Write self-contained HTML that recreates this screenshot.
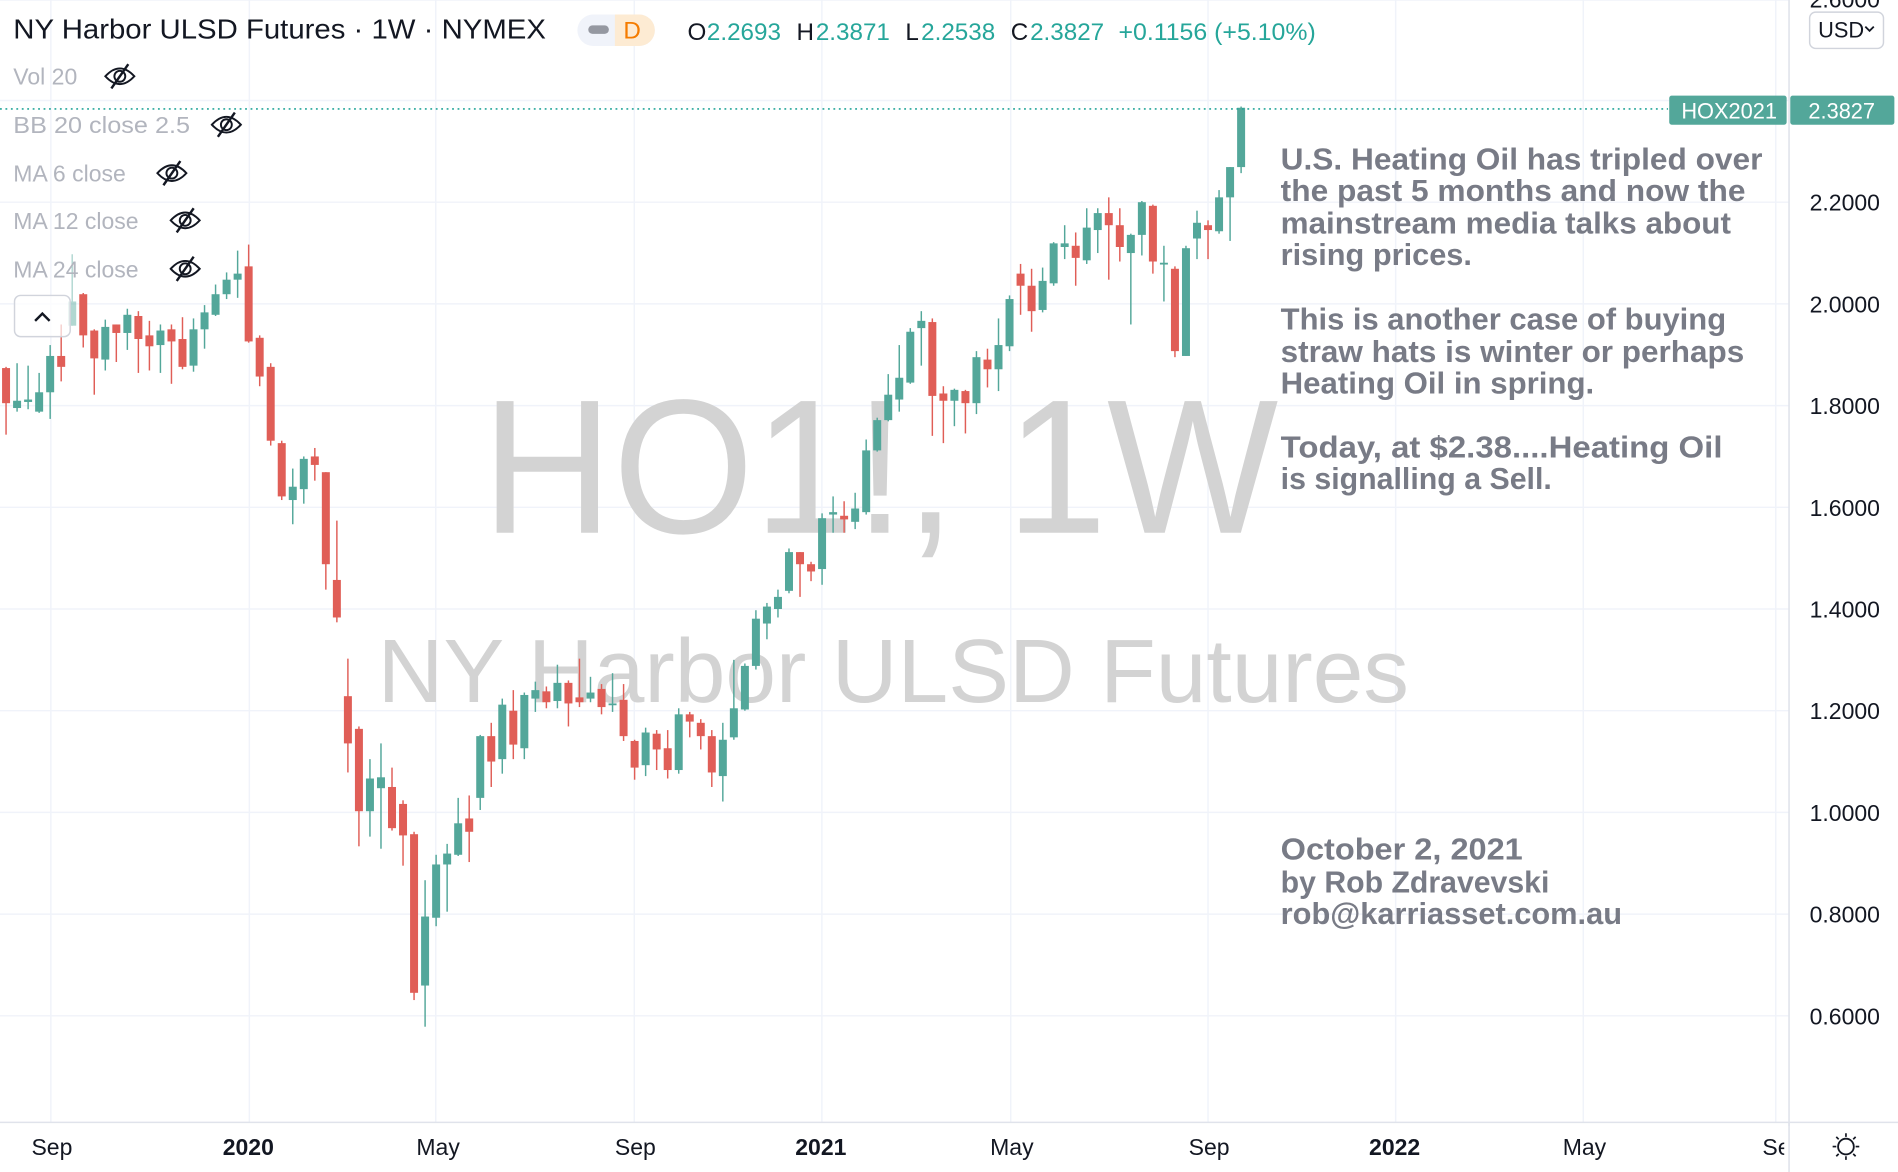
<!DOCTYPE html>
<html><head><meta charset="utf-8"><style>
html,body{margin:0;padding:0;background:#fff;overflow:hidden}
svg{display:block}
text{font-family:"Liberation Sans",sans-serif}
</style></head><body>
<svg id="s" width="1898" height="1172" viewBox="0 0 1568 968" preserveAspectRatio="none" xmlns="http://www.w3.org/2000/svg">
<rect width="1568" height="968" fill="#fff"/>
<g stroke="#f0f3fa" stroke-width="1.2">
<line x1="42" y1="0" x2="42" y2="927"/><line x1="206" y1="0" x2="206" y2="927"/><line x1="360" y1="0" x2="360" y2="927"/><line x1="524" y1="0" x2="524" y2="927"/><line x1="679" y1="0" x2="679" y2="927"/><line x1="835" y1="0" x2="835" y2="927"/><line x1="998" y1="0" x2="998" y2="927"/><line x1="1153" y1="0" x2="1153" y2="927"/><line x1="1308" y1="0" x2="1308" y2="927"/><line x1="1467" y1="0" x2="1467" y2="927"/>
<line x1="0" y1="0" x2="1478" y2="0"/><line x1="0" y1="83" x2="1478" y2="83"/><line x1="0" y1="167" x2="1478" y2="167"/><line x1="0" y1="251" x2="1478" y2="251"/><line x1="0" y1="335" x2="1478" y2="335"/><line x1="0" y1="419" x2="1478" y2="419"/><line x1="0" y1="503" x2="1478" y2="503"/><line x1="0" y1="587" x2="1478" y2="587"/><line x1="0" y1="671" x2="1478" y2="671"/><line x1="0" y1="755" x2="1478" y2="755"/><line x1="0" y1="839" x2="1478" y2="839"/>
</g>
<!-- watermarks -->
<text x="398" y="440" font-size="158" fill="#d3d3d3" textLength="658" lengthAdjust="spacingAndGlyphs">HO1!, 1W</text>
<text x="312" y="580" font-size="74" fill="#d3d3d3" textLength="852" lengthAdjust="spacingAndGlyphs">NY Harbor ULSD Futures</text>
<g id="candles"></g>
<line x1="0" y1="90" x2="1378" y2="90" stroke="#26a69a" stroke-width="1.3" stroke-dasharray="1.5 3"/>
<!-- axes -->
<line x1="1478" y1="0" x2="1478" y2="968" stroke="#e0e3eb" stroke-width="1.3"/>
<line x1="0" y1="927" x2="1568" y2="927" stroke="#e0e3eb" stroke-width="1.3"/>
<g font-size="19" fill="#131722">
<text x="1495" y="6">2.6000</text>
<text x="1495" y="174">2.2000</text><text x="1495" y="258">2.0000</text><text x="1495" y="342">1.8000</text><text x="1495" y="426">1.6000</text><text x="1495" y="510">1.4000</text><text x="1495" y="594">1.2000</text><text x="1495" y="678">1.0000</text><text x="1495" y="762">0.8000</text><text x="1495" y="846">0.6000</text>
</g>
<rect x="1495" y="10" width="61" height="30" rx="5" fill="#fff" stroke="#d1d4dc" stroke-width="1.2"/>
<text x="1502" y="31" font-size="18" fill="#131722">USD</text>
<path d="M1541 22 l3.5 3.5 l3.5 -3.5" fill="none" stroke="#131722" stroke-width="1.5"/>
<rect x="1379" y="79" width="97" height="24" rx="2" fill="#53a79a"/>
<text x="1389" y="98" font-size="18" fill="#fff">HOX2021</text>
<rect x="1479" y="79" width="86" height="24" rx="2" fill="#53a79a"/>
<text x="1494" y="98" font-size="18" fill="#fff">2.3827</text>
<g font-size="19" fill="#131722">
<text x="26" y="954">Sep</text><text x="184" y="954" font-weight="bold">2020</text><text x="344" y="954">May</text><text x="508" y="954">Sep</text><text x="657" y="954" font-weight="bold">2021</text><text x="818" y="954">May</text><text x="982" y="954">Sep</text><text x="1131" y="954" font-weight="bold">2022</text><text x="1291" y="954">May</text><text x="1456" y="954">Se</text>
</g>
<rect x="1474" y="930" width="6" height="38" fill="#fff"/>
<line x1="1478" y1="927" x2="1478" y2="968" stroke="#e0e3eb" stroke-width="1.3"/>
<circle cx="1525" cy="947" r="6.5" fill="none" stroke="#131722" stroke-width="1.5"/>
<g stroke="#131722" stroke-width="1.4"><line x1="1525" y1="936" x2="1525" y2="939"/><line x1="1525" y1="955" x2="1525" y2="958"/><line x1="1514" y1="947" x2="1517" y2="947"/><line x1="1533" y1="947" x2="1536" y2="947"/><line x1="1517" y1="939" x2="1519" y2="941"/><line x1="1531" y1="953" x2="1533" y2="955"/><line x1="1517" y1="955" x2="1519" y2="953"/><line x1="1531" y1="941" x2="1533" y2="939"/></g>
<!-- header -->
<text x="11" y="32" font-size="23" fill="#131722" textLength="440" lengthAdjust="spacingAndGlyphs">NY Harbor ULSD Futures · 1W · NYMEX</text>
<rect x="477" y="12" width="64" height="26" rx="13" fill="#f0f3fa"/>
<path d="M508 12 h20 a13 13 0 0 1 0 26 h-20 z" fill="#fdebd3"/>
<rect x="486" y="21" width="17" height="7" rx="3.5" fill="#9598a1"/>
<text x="515" y="32" font-size="20" fill="#f57c00">D</text>
<g font-size="20">
<text x="568" y="33" fill="#131722">O</text><text x="584" y="33" fill="#26a69a">2.2693</text>
<text x="658" y="33" fill="#131722">H</text><text x="674" y="33" fill="#26a69a">2.3871</text>
<text x="748" y="33" fill="#131722">L</text><text x="761" y="33" fill="#26a69a">2.2538</text>
<text x="835" y="33" fill="#131722">C</text><text x="851" y="33" fill="#26a69a">2.3827</text>
<text x="924" y="33" fill="#26a69a" textLength="163" lengthAdjust="spacingAndGlyphs">+0.1156 (+5.10%)</text>
</g>
<g font-size="19" fill="#b2b5be">
<text x="11" y="70">Vol 20</text>
<text x="11" y="110" textLength="146" lengthAdjust="spacingAndGlyphs">BB 20 close 2.5</text>
<text x="11" y="150">MA 6 close</text>
<text x="11" y="189">MA 12 close</text>
<text x="11" y="229">MA 24 close</text>
</g>
<g fill="none" stroke="#131722" stroke-width="1.6" id="eyes"></g>
<rect x="12" y="244" width="46" height="34" rx="5" fill="#fff" fill-opacity="0.7" stroke="#d1d4dc" stroke-width="1.2"/>
<path d="M29 265 l6 -6 l6 6" fill="none" stroke="#131722" stroke-width="2"/>
<!-- annotations -->
<g font-size="25" fill="#787b86" font-weight="bold">
<text x="1058" y="140" textLength="398" lengthAdjust="spacingAndGlyphs">U.S. Heating Oil has tripled over</text>
<text x="1058" y="166" textLength="384" lengthAdjust="spacingAndGlyphs">the past 5 months and now the</text>
<text x="1058" y="193" textLength="372" lengthAdjust="spacingAndGlyphs">mainstream media talks about</text>
<text x="1058" y="219" textLength="158" lengthAdjust="spacingAndGlyphs">rising prices.</text>
<text x="1058" y="272" textLength="368" lengthAdjust="spacingAndGlyphs">This is another case of buying</text>
<text x="1058" y="299" textLength="383" lengthAdjust="spacingAndGlyphs">straw hats is winter or perhaps</text>
<text x="1058" y="325" textLength="259" lengthAdjust="spacingAndGlyphs">Heating Oil in spring.</text>
<text x="1058" y="378" textLength="365" lengthAdjust="spacingAndGlyphs">Today, at $2.38....Heating Oil</text>
<text x="1058" y="404" textLength="224" lengthAdjust="spacingAndGlyphs">is signalling a Sell.</text>
<text x="1058" y="710" textLength="200" lengthAdjust="spacingAndGlyphs">October 2, 2021</text>
<text x="1058" y="737" textLength="222" lengthAdjust="spacingAndGlyphs">by Rob Zdravevski</text>
<text x="1058" y="763" textLength="282" lengthAdjust="spacingAndGlyphs">rob@karriasset.com.au</text>
</g>
</svg>
<script>
var d=[[304,333,303,359],[337,331,300,340],[332,330,302,338],[340,324,308,341],[324,294,285,346],[294,303,268,315],[269,249,210,269],[243,277,242,287],[273,296,272,326],[297,270,264,306],[268,275,268,299],[275,260,255,289],[261,280,257,308],[277,286,265,306],[285,273,268,308],[272,282,268,317],[280,303,262,305],[302,272,263,307],[272,258,252,288],[260,243,235,261],[243,231,225,247],[231,226,207,246],[220,282,202,283],[279,311,277,319],[303,364,300,368],[366,410,364,413],[413,402,387,433],[404,379,377,416],[377,384,370,397],[390,466,390,487],[479,510,430,514],
[575,614,544,638],[602,670,600,699],[670,643,627,691],[651,642,614,701],[650,684,634,686],[664,690,661,715],[689,820,687,826],[814,757,727,848],[758,714,706,765],[714,705,697,753],[706,680,659,707],[676,687,657,712],[659,608,607,669],[608,629,597,650],[627,582,577,639],[587,615,570,627],[618,574,572,627],[577,570,563,588],[571,580,567,585],[579,564,549,585],[564,581,562,600],[576,580,544,584],[577,572,559,580],[569,584,565,590],[582,581,556,588],[578,608,565,612],[612,634,611,644],[632,605,601,641],
[606,619,603,636],[618,636,603,643],[636,590,585,639],[590,596,588,609],[597,608,594,619],[608,638,603,650],[641,611,597,662],[609,585,545,611],[586,550,548,587],[550,511,504,553],[515,501,498,528],[503,493,487,510],
[488,456,453,490],[456,466,456,493],[466,472,464,480],[470,428,424,483],[425,423,410,440],[426,429,414,440],[431,420,407,437],[423,372,363,425],[372,347,345,373],[347,326,309,348],[330,312,285,340],[316,274,271,317],[271,265,257,302],[266,327,263,360],[325,331,319,366],[331,322,321,352],[323,333,322,358],[333,295,290,342],[297,305,288,320],[305,285,263,323],[286,247,244,290],[226,236,218,260],[236,257,222,274],[256,232,221,258],[234,201,200,236],[204,201,186,214],[203,213,192,236],[215,188,172,218],[190,176,172,209],[176,186,163,231],[186,204,172,216],[209,194,193,268],[194,167,166,211],[170,216,169,226],[218,217,203,249],[222,290,220,295],[294,205,203,294],[197,184,174,214],[186,190,182,214],[191,163,157,193],[163,138,138,199],[138,89,88,143]];
var g=document.getElementById('candles'),h='';
for(var i=0;i<d.length;i++){var o=d[i][0],c=d[i][1],hi=d[i][2],lo=d[i][3],x=5+i*9.11;
var col=c<=o?'#53a79a':'#e05e57';var op=(i==6)?' opacity="0.45"':'';
var t=Math.min(o,c),b=Math.max(o,c);if(b-t<1.5){b=t+1.5;}
h+='<g'+op+'><rect x="'+(x-0.6).toFixed(2)+'" y="'+hi+'" width="1.2" height="'+(lo-hi)+'" fill="'+col+'"/><rect x="'+(x-3.3).toFixed(2)+'" y="'+t+'" width="6.6" height="'+(b-t)+'" fill="'+col+'"/></g>';}
g.innerHTML=h;
var e=document.getElementById('eyes'),ys=[63,103,143,182,222],xs=[99,187,142,153,153],s='';
for(var k=0;k<5;k++){var cx=xs[k],cy=ys[k];
s+='<path d="M'+(cx-12)+' '+cy+' q12 -13 24 0 q-12 13 -24 0z"/><circle cx="'+cx+'" cy="'+cy+'" r="4.5"/><line x1="'+(cx-7)+'" y1="'+(cy+10)+'" x2="'+(cx+7)+'" y2="'+(cy-10)+'" stroke-width="2"/>';}
e.innerHTML=s;
</script>
</body></html>
